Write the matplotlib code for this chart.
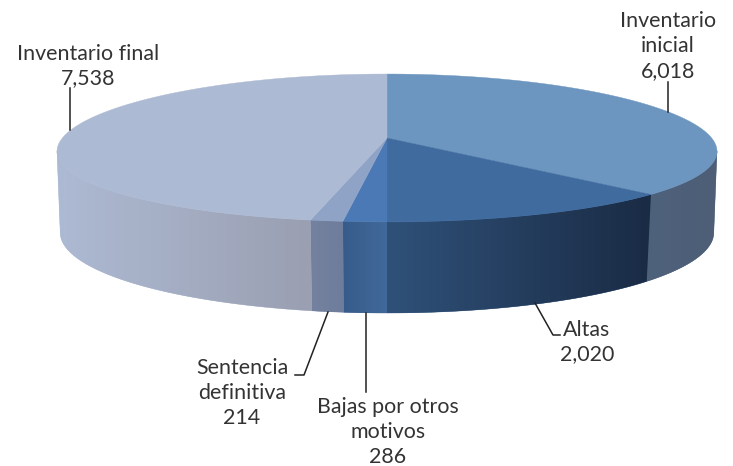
import numpy as np
import matplotlib.pyplot as plt
from matplotlib.colors import LinearSegmentedColormap
from matplotlib.patches import Polygon

# Datos de la grafica
categorias = ['Inventario\ninicial', 'Altas', 'Bajas por otros\nmotivos', 'Sentencia\ndefinitiva', 'Inventario final']
valores = [6018, 2020, 286, 214, 7538]
color_tapa = ['#6c95bf', '#3f6b9f', '#4a79b5', '#8fa3c6', '#adbad3']
color_lado_izq = ['#4f627c', '#2f5179', '#375c8b', '#7482a0', '#adbad3']
color_lado_der = ['#4d5e76', '#1a2b44', '#41699a', '#6f7d9c', '#9a9fb1']

plt.rcParams['font.family'] = ['Lato', 'DejaVu Sans']

fig = plt.figure(figsize=(7.33, 4.66), dpi=100)
ax = fig.add_axes([0, 0, 1, 1])


# proyeccion en perspectiva del disco (angulo en grados, 0 arriba, sentido horario)
def tapa(t):
    u, v = np.sin(np.radians(t)), np.cos(np.radians(t))
    return 387 + 324.6 * u / (1 + 0.18 * v), 138 - 72.6 * v / (1 + 0.135 * v)


def base(t):
    u, v = np.sin(np.radians(t)), np.cos(np.radians(t))
    d = 1 + 0.17 * v
    return 387 + 322 * u / d, 219 - 78 * v / d


angulos = np.concatenate([[0], np.cumsum(valores) / sum(valores) * 360])

# lados visibles
for i in range(len(valores)):
    a0 = max(angulos[i], 100)
    a1 = min(angulos[i + 1], 260)
    if a1 <= a0:
        continue
    ts = np.linspace(a0, a1, 80)
    x1, y1 = tapa(ts)
    x2, y2 = base(ts[::-1])
    pts = np.column_stack([np.concatenate([x1, x2]), np.concatenate([y1, y2])])
    poli = Polygon(pts, closed=True, facecolor=color_lado_izq[i], edgecolor=color_lado_izq[i], linewidth=0.3)
    ax.add_patch(poli)
    # degradado horizontal de cada lado
    cmap = LinearSegmentedColormap.from_list('lado', [color_lado_izq[i], color_lado_der[i]])
    grad = np.linspace(0, 1, 256).reshape(1, -1)
    im = ax.imshow(grad, cmap=cmap, extent=[pts[:, 0].min(), pts[:, 0].max(), pts[:, 1].max(), pts[:, 1].min()],
                   aspect='auto', zorder=2)
    im.set_clip_path(poli)

# tapas
for i in range(len(valores)):
    ts = np.linspace(angulos[i], angulos[i + 1], 200)
    x1, y1 = tapa(ts)
    pts = np.column_stack([np.r_[387, x1], np.r_[138, y1]])
    ax.add_patch(Polygon(pts, closed=True, facecolor=color_tapa[i], edgecolor=color_tapa[i], linewidth=0.3, zorder=3))

# lineas guia
guias = [
    ([667.5, 667.5], [82, 112]),
    ([535, 553, 560], [303, 335, 335]),
    ([366, 366], [313, 392]),
    ([328, 304, 295], [312, 375, 375]),
    ([70, 70], [88, 130]),
]
for gx, gy in guias:
    ax.plot(gx, gy, color='#222222', lw=1.1, zorder=4)

# etiquetas
pos_x = [668, 587, 388, 242, 88]
pos_y = [46, 342, 432, 393, 66]
for i in range(len(valores)):
    ax.text(pos_x[i], pos_y[i], categorias[i] + '\n' + f'{valores[i]:,}', ha='center', va='center',
            fontsize=15.4, color='#333333', linespacing=1.3, zorder=5)

ax.set_xlim(0, 733)
ax.set_ylim(466, 0)
ax.axis('off')

fig.savefig('out.png', dpi=100)
